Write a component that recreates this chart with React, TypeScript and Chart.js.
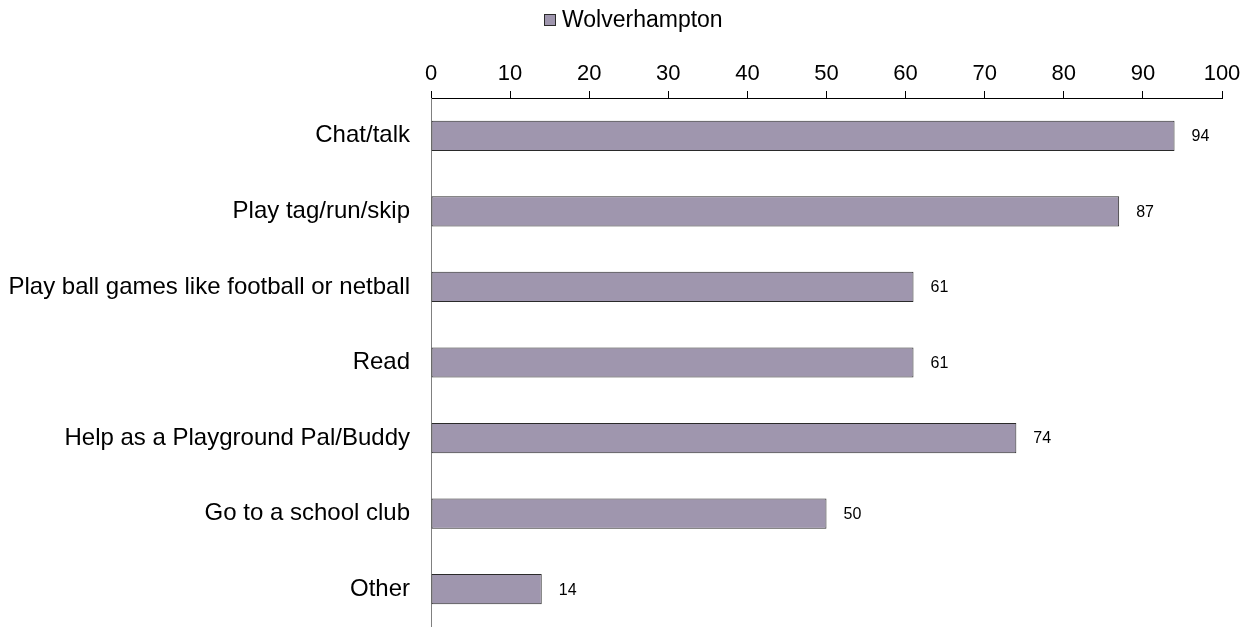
import React, { useEffect, useRef } from "react";
import { Chart, registerables } from "chart.js";

Chart.register(...registerables);

const categories = [
  "Chat/talk",
  "Play tag/run/skip",
  "Play ball games like football or netball",
  "Read",
  "Help as a Playground Pal/Buddy",
  "Go to a school club",
  "Other",
];
const wolverhampton = [94, 87, 61, 61, 74, 50, 14];
const seriesName = "Wolverhampton";

const FONT = "'Liberation Sans', Arial, sans-serif";
const BAR_FILL = "#9F96AE";
const BAR_EDGE = "#2a2a2a";

const valueLabels = {
  id: "valueLabels",
  afterDatasetsDraw(chart: any) {
    const ctx = chart.ctx;
    const meta = chart.getDatasetMeta(0);
    ctx.save();
    ctx.font = `16px ${FONT}`;
    ctx.fillStyle = "#000";
    ctx.textAlign = "left";
    ctx.textBaseline = "middle";
    meta.data.forEach((bar: any, i: number) => {
      const v = chart.data.datasets[0].data[i];
      ctx.fillText(String(v), bar.x + 17, bar.y + 1);
    });
    ctx.restore();
  },
};

const customLegend = {
  id: "customLegend",
  afterDraw(chart: any) {
    const ctx = chart.ctx;
    ctx.save();
    const bx = 536;
    const by = 6;
    ctx.fillStyle = BAR_FILL;
    ctx.fillRect(bx, by, 12, 12);
    ctx.strokeStyle = BAR_EDGE;
    ctx.lineWidth = 1;
    ctx.strokeRect(bx + 0.5, by + 0.5, 11, 11);
    ctx.font = `23px ${FONT}`;
    ctx.fillStyle = "#000";
    ctx.textAlign = "left";
    ctx.textBaseline = "middle";
    ctx.fillText(chart.data.datasets[0].label, 554, 13);
    ctx.restore();
  },
};

export default function App() {
  const ref = useRef<HTMLCanvasElement>(null);
  useEffect(() => {
    if (!ref.current) return;
    const chart = new Chart(ref.current, {
      type: "bar",
      data: {
        labels: categories,
        datasets: [
          {
            label: seriesName,
            data: wolverhampton,
            backgroundColor: BAR_FILL,
            borderColor: BAR_EDGE,
            borderWidth: 1,
            borderSkipped: false,
            barPercentage: 0.4,
            categoryPercentage: 1,
          },
        ],
      },
      options: {
        indexAxis: "y",
        animation: false,
        responsive: true,
        maintainAspectRatio: false,
        layout: { padding: { top: 31, right: 21, bottom: 0, left: 0 } },
        plugins: {
          legend: { display: false },
          tooltip: { enabled: false },
        },
        scales: {
          x: {
            position: "top",
            min: 0,
            max: 100,
            ticks: {
              stepSize: 10,
              color: "#000",
              font: { family: FONT, size: 22 },
              padding: 4,
              maxRotation: 0,
            },
            grid: {
              drawOnChartArea: false,
              drawTicks: true,
              tickLength: 7,
              color: "#000",
            },
            border: { display: true, color: "#000", width: 1 },
            afterFit: (scale: any) => {
              scale.height = 59;
              scale.paddingLeft = 0;
              scale.paddingRight = 0;
            },
          },
          y: {
            ticks: {
              color: "#000",
              font: { family: FONT, size: 24 },
              padding: 21,
            },
            grid: { display: false, drawTicks: false },
            border: { display: true, color: "#808080", width: 1 },
            afterFit: (scale: any) => {
              scale.width = 423;
              scale.paddingTop = 0;
              scale.paddingBottom = 0;
            },
          },
        },
      },
      plugins: [valueLabels, customLegend],
    });
    return () => chart.destroy();
  }, []);
  return (
    <div style={{ width: 1235, height: 619 }}>
      <canvas ref={ref} />
    </div>
  );
}
